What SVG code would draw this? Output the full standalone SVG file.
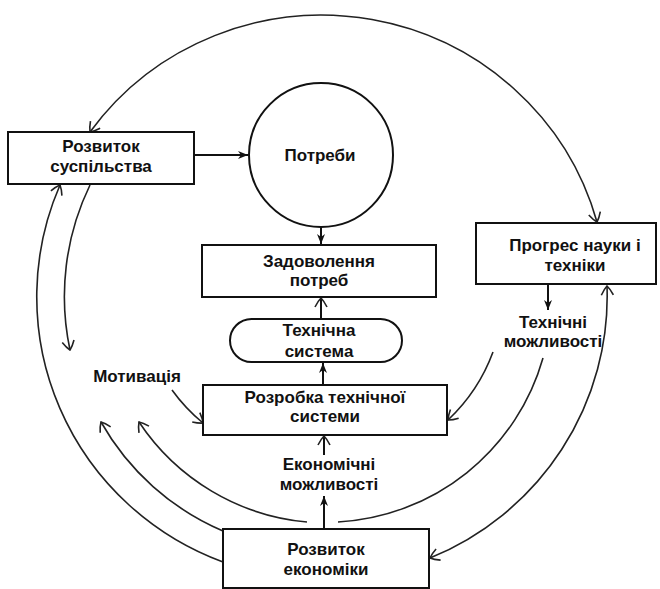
<svg xmlns="http://www.w3.org/2000/svg" width="660" height="589" viewBox="0 0 660 589">
<style>
.box{fill:#fff;stroke:#111;stroke-width:2}
.c{fill:none;stroke:#222;stroke-width:1.6}
.s{fill:none;stroke:#111;stroke-width:2}
text{font-family:"Liberation Sans",Arial,sans-serif;font-weight:bold;font-size:17px;fill:#111;text-anchor:middle}
</style>
<defs>
<marker id="open" viewBox="-11 -7 13 14" refX="0" refY="0" markerWidth="13" markerHeight="14" markerUnits="userSpaceOnUse" orient="auto-start-reverse">
<path d="M -9 -6 Q -3 -3 0 0 Q -3 3 -9 6" fill="none" stroke="#222" stroke-width="1.6"/>
</marker>
<marker id="solid" viewBox="-11 -6 13 12" refX="0" refY="0" markerWidth="13" markerHeight="12" markerUnits="userSpaceOnUse" orient="auto-start-reverse">
<path d="M 0 0 L -10 -4 L -7 0 L -10 4 Z" fill="#111"/>
</marker>
</defs>
<rect width="660" height="589" fill="#fff"/>
<g id="connectors">
<path class="c" d="M 597 222 A 286 283 0 0 0 90 132" marker-start="url(#open)" marker-end="url(#open)"/>
<path class="c" d="M 223 562 A 286 283 0 0 1 60 185" marker-end="url(#open)"/>
<path class="c" d="M 607 286 A 286 283 0 0 1 430 558" marker-start="url(#open)" marker-end="url(#open)"/>
<path class="c" d="M 90 185 A 256 256 0 0 0 70 350" marker-end="url(#open)"/>
<path class="c" d="M 223 531 A 255 255 0 0 1 101 422" marker-end="url(#open)"/>
<path class="c" d="M 307 522 A 226 226 0 0 1 139 422" marker-end="url(#open)"/>
<path class="c" d="M 338 522 A 226 226 0 0 0 543 358"/>
<path class="c" d="M 172 390 A 175 175 0 0 0 203 423" marker-end="url(#open)"/>
<path class="c" d="M 493 352 A 178 178 0 0 1 448 420" marker-end="url(#open)"/>
<path class="s" d="M 194 155 L 248 155" marker-end="url(#solid)"/>
<path class="s" d="M 321 227 L 321 244" marker-end="url(#solid)"/>
<path class="s" d="M 321 319 L 321 298" marker-end="url(#open)"/>
<path class="s" d="M 323 385 L 323 363" marker-end="url(#solid)"/>
<path class="s" d="M 324 529 L 324 496" marker-end="url(#solid)"/>
<path class="s" d="M 324 455 L 324 436" marker-end="url(#open)"/>
<path class="s" d="M 548 284 L 548 310" marker-end="url(#solid)"/>
</g>
<g id="rozvytok-suspilstva">
<rect class="box" x="8" y="132" width="186" height="52"/>
<text x="101" y="152">Розвиток</text>
<text x="101" y="172">суспільства</text>
</g>
<g id="potreby">
<circle class="box" cx="321" cy="155" r="72"/>
<text x="320" y="161">Потреби</text>
</g>
<g id="zadovolennia">
<rect class="box" x="202" y="245" width="234" height="52"/>
<text x="319" y="267">Задоволення</text>
<text x="319" y="286">потреб</text>
</g>
<g id="tekhnichna-systema">
<rect class="box" x="230" y="319" width="172" height="43" rx="21.5"/>
<text x="319" y="336">Технічна</text>
<text x="319" y="357">система</text>
</g>
<g id="progres">
<rect class="box" x="476" y="223" width="180" height="61"/>
<text x="575" y="251">Прогрес науки і</text>
<text x="575" y="271">техніки</text>
</g>
<g id="tekhnichni-mozhlyvosti">
<text x="553" y="328">Технічні</text>
<text x="553" y="347">можливості</text>
</g>
<g id="motyvatsiia">
<text x="137" y="382">Мотивація</text>
</g>
<g id="rozrobka">
<rect class="box" x="203" y="385" width="244" height="50"/>
<text x="325" y="403">Розробка технічної</text>
<text x="325" y="422">системи</text>
</g>
<g id="ekonomichni-mozhlyvosti">
<text x="329" y="470">Економічні</text>
<text x="329" y="490">можливості</text>
</g>
<g id="rozvytok-ekonomiky">
<rect class="box" x="223" y="529" width="206" height="59"/>
<text x="326" y="555">Розвиток</text>
<text x="326" y="575">економіки</text>
</g>
</svg>
